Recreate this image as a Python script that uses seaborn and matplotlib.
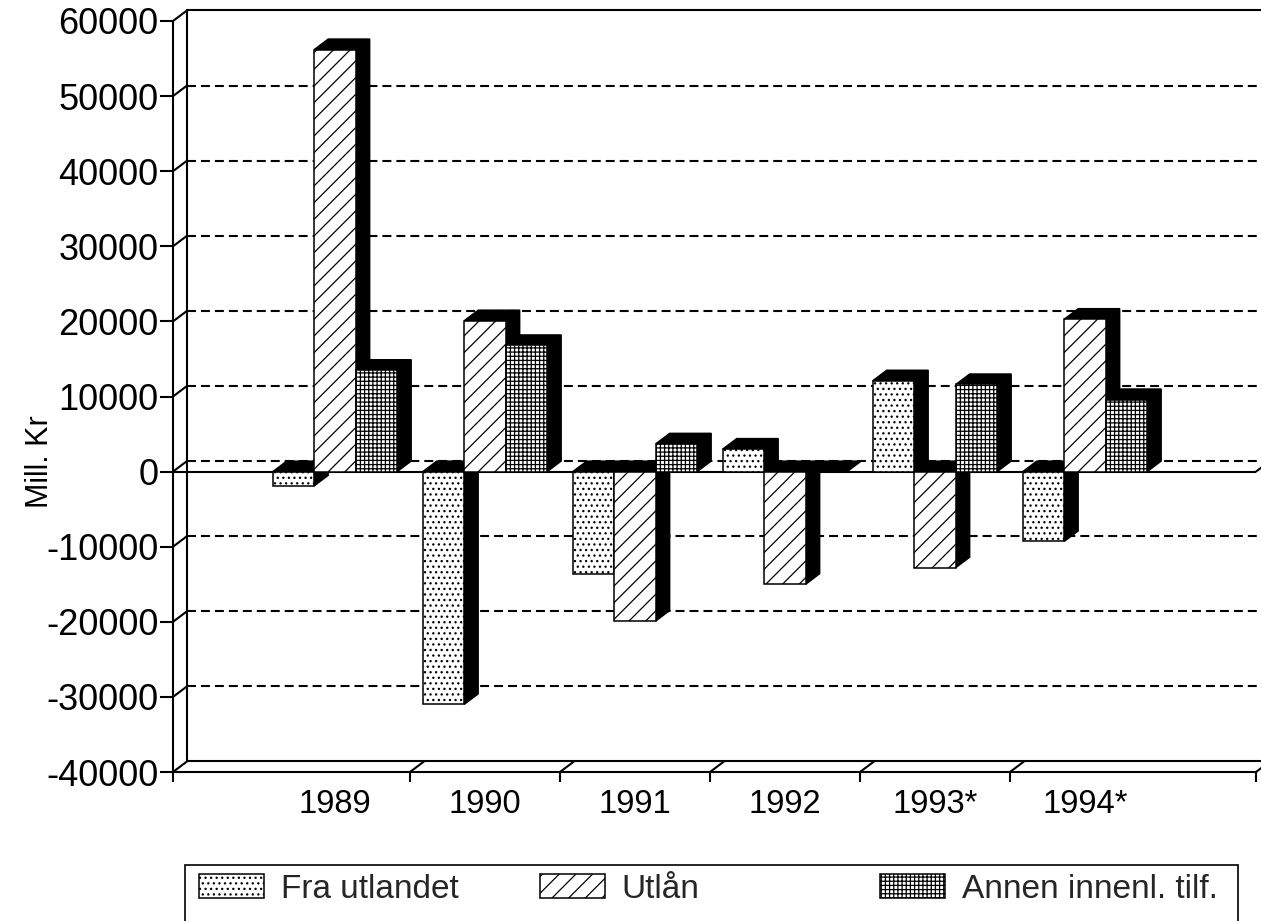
import pandas as pd
import seaborn as sns
import matplotlib.pyplot as plt
from matplotlib.patches import Polygon, Patch, Rectangle

# data (Mill. Kr)
years = ["1989", "1990", "1991", "1992", "1993*", "1994*"]
series = ["Fra utlandet", "Utlån", "Annen innenl. tilf."]
fra_utlandet = [-1900, -31000, -13700, 3000, 12100, -9300]
utlan = [56200, 20100, -19900, -15000, -12800, 20300]
annen = [13500, 16800, 3700, 0, 11600, 9600]
y_ticks = list(range(-40000, 60001, 10000))

hatches = ["...", "//", "++++"]

df = pd.DataFrame({
    "year": years * 3,
    "series": [s for s in series for _ in years],
    "value": fra_utlandet + utlan + annen,
})

sns.set_theme(style="white")
plt.rcParams["font.family"] = ["Liberation Sans", "DejaVu Sans"]
plt.rcParams["hatch.linewidth"] = 0.9

W, H = 1261, 921
fig = plt.figure(figsize=(W / 100, H / 100), dpi=100)
ax = fig.add_axes([173 / W, 1 - 772 / H, 1083 / W, 751 / H])

sns.barplot(data=df, x="year", y="value", hue="series", order=years, hue_order=series,
            palette=["white"] * 3, saturation=1, edgecolor="black", linewidth=1.1,
            width=0.83, errorbar=None, legend=False, ax=ax)

XLIM = (-1.08, 6.14)
YLIM = (-40000, 60000)
DX, DY = 0.093, 1400  # depth of the fake 3d
ax.set_xlim(*XLIM)
ax.set_ylim(*YLIM)

# hatches + black top/side faces, drawn left to right
bars = []
for cont, h in zip(ax.containers, hatches):
    for bar in cont:
        bar.set_hatch(h)
        bars.append(bar)
bars.sort(key=lambda b: b.get_x())
for k, bar in enumerate(bars):
    x, w = bar.get_x(), bar.get_width()
    y0, hgt = bar.get_y(), bar.get_height()
    lo, hi = min(y0, y0 + hgt), max(y0, y0 + hgt)
    face = Polygon([(x, hi), (x + DX, hi + DY), (x + w + DX, hi + DY),
                    (x + w + DX, lo + DY), (x + w, lo), (x + w, hi)],
                   closed=True, facecolor="black", edgecolor="black", lw=1, zorder=3 + 2 * k)
    ax.add_patch(face)
    bar.set_zorder(4 + 2 * k)

# back wall
xb0, xb1 = XLIM[0] + DX, XLIM[1] + DX
for v in y_ticks[1:-1]:
    ax.plot([xb0, xb1], [v + DY] * 2, color="black", lw=1.5, ls=(0, (4.3, 2.4)),
            zorder=1, clip_on=False)
ax.plot([xb1, xb0, xb0, xb1], [YLIM[0] + DY, YLIM[0] + DY, YLIM[1] + DY, YLIM[1] + DY],
        color="black", lw=1.5, clip_on=False, zorder=1)
for v in y_ticks:
    ax.plot([XLIM[0], xb0], [v, v + DY], color="black", lw=1.5, clip_on=False, zorder=1)
bounds = [0.5, 1.5, 2.5, 3.5, 4.5, XLIM[1]]
for b in bounds:
    ax.plot([b, b + DX], [YLIM[0], YLIM[0] + DY], color="black", lw=1.5, clip_on=False, zorder=1)
ax.plot([XLIM[1], xb1], [0, DY], color="black", lw=1.5, clip_on=False, zorder=1)
ax.axhline(0, color="black", lw=1.5, zorder=2)

for side in ["top", "right"]:
    ax.spines[side].set_visible(False)
for side in ["left", "bottom"]:
    ax.spines[side].set_color("black")
    ax.spines[side].set_linewidth(1.5)

ax.set_yticks(y_ticks)
ax.set_yticklabels([str(v) for v in y_ticks])
ax.tick_params(axis="y", left=True, direction="out", length=9.5, width=1.5,
               color="black", labelsize=26, pad=1, labelcolor="black")
ax.set_xticks(range(len(years)))
ax.set_xticklabels(years)
ax.tick_params(axis="x", which="major", length=0, labelsize=23.5, pad=12, labelcolor="black")
ax.set_xticks([XLIM[0]] + bounds, minor=True)
ax.tick_params(axis="x", which="minor", bottom=True, direction="out", length=7.5,
               width=1.5, color="black")
ax.set_xlabel("")
ax.set_ylabel("")

fig.text(40 / W, 1 - 462 / H, "Mill. Kr", rotation=90, ha="center", va="center",
         fontsize=22, color="black")

# legend: three entries in one frame
legend_x = [199, 540, 880]
for name, h, px in zip(series, hatches, legend_x):
    handle = Patch(facecolor="white", edgecolor="black", hatch=h, lw=1.1, label=name)
    fig.legend(handles=[handle], loc="center left", bbox_to_anchor=(px / W, 1 - 889 / H),
               frameon=False, fontsize=24, handlelength=1.95, handleheight=0.72,
               handletextpad=0.5, borderpad=0, borderaxespad=0)
fig.add_artist(Rectangle((185 / W, -0.05), 1053 / W, 0.05 + 1 - 865 / H,
                         transform=fig.transFigure, fill=False, edgecolor="black", lw=1.2))

fig.savefig("out.png", dpi=100)
